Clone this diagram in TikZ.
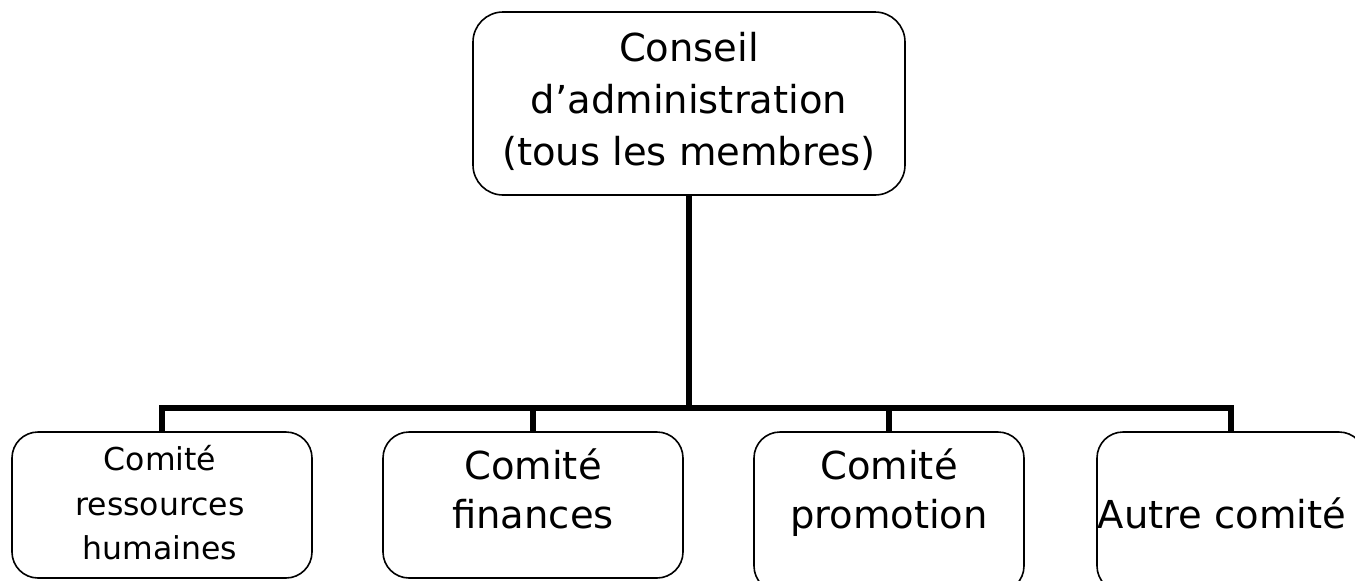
\documentclass[tikz,border=0pt]{standalone}
\usepackage{fontspec}
\setmainfont{DejaVu Sans}
\begin{document}
\begin{tikzpicture}[x=1pt,y=-1pt,
  boxshape/.style={draw=black, line width=1.6pt, rounded corners=26pt, inner sep=0pt, fill=white},
  bigtxt/.style={anchor=base, inner sep=0pt, font=\fontsize{38.5}{46}\selectfont},
  smalltxt/.style={anchor=base, inner sep=0pt, font=\fontsize{31.5}{38}\selectfont},
  conn/.style={draw=black, line width=6pt, line join=miter}]
\clip (0,0) rectangle (1355,581);
\fill[white] (0,0) rectangle (1355,581);
% boxes
\node[boxshape, rounded corners=30pt, minimum width=432pt, minimum height=183pt] (top) at (689,103.5) {};
\node[boxshape, minimum width=300pt, minimum height=146pt] (b1) at (162,505) {};
\node[boxshape, minimum width=300pt, minimum height=146pt] (b2) at (533,505) {};
\node[boxshape, minimum width=270pt, minimum height=160pt] (b3) at (889,512) {};
\node[boxshape, minimum width=268pt, minimum height=160pt] (b4) at (1231,512) {};
% bus
\coordinate (bus) at (689,408);
\draw[conn] (top.south) -- (top.south |- bus);
\draw[conn] (b1.north) -- (b1.north |- bus) -- (b4.north |- bus) -- (b4.north);
\draw[conn] (b2.north |- bus) -- (b2.north);
\draw[conn] (b3.north |- bus) -- (b3.north);
% texts
\node[bigtxt] (t0a) at (689,61) {Conseil};
\node[bigtxt] (t0b) at (689,113) {d’administration};
\node[bigtxt] (t0c) at (689,165) {(tous les membres)};
\node[smalltxt] (t1a) at (160,470) {Comité};
\node[smalltxt] (t1b) at (160,515) {ressources};
\node[smalltxt] (t1c) at (160,559) {humaines};
\node[bigtxt] (t2a) at (533,479) {Comité};
\node[bigtxt] (t2b) at (533,528) {finances};
\node[bigtxt] (t3a) at (889,479) {Comité};
\node[bigtxt] (t3b) at (889,528) {promotion};
\node[bigtxt] (t4a) at (1222,528) {Autre comité};
\end{tikzpicture}
\end{document}
